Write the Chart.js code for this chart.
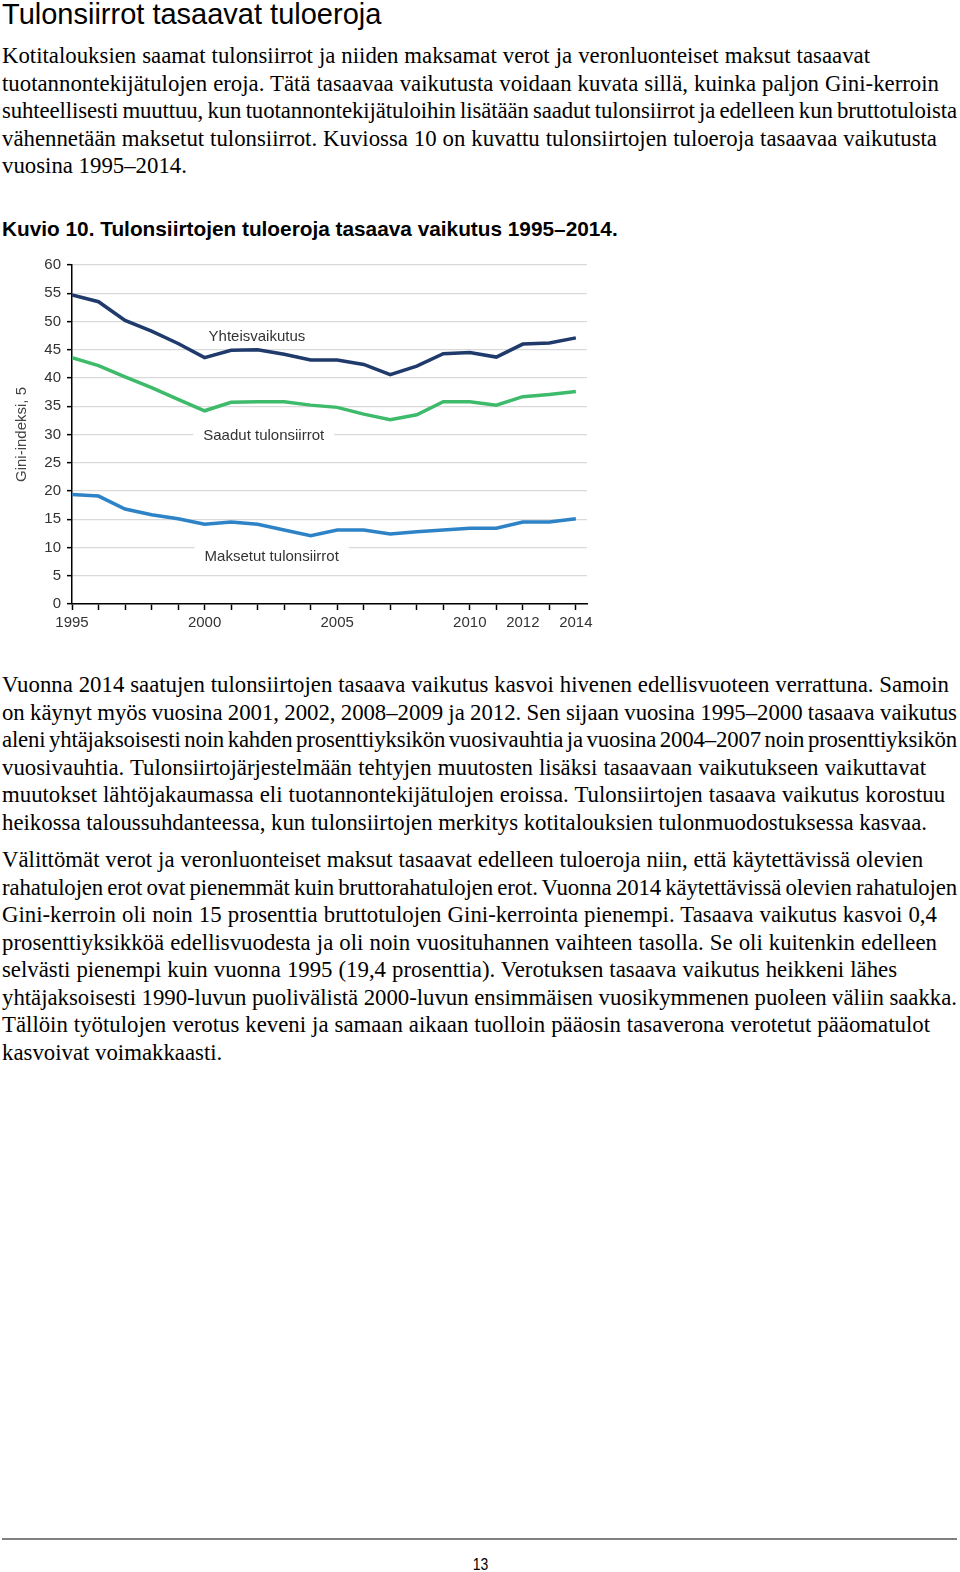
<!DOCTYPE html>
<html lang="fi">
<head>
<meta charset="utf-8">
<title>Tulonsiirrot tasaavat tuloeroja</title>
<script src="https://cdn.jsdelivr.net/npm/chart.js@4.4.1/dist/chart.umd.min.js"></script>
<style>
  html, body { margin: 0; padding: 0; background: #fff; }
  body { width: 960px; height: 1572px; position: relative; overflow: hidden; color: #000; }
  .h1 { position: absolute; left: 2px; top: 0; font: 29px/29px "Liberation Sans", Arial, sans-serif; white-space: nowrap; }
  .para { position: absolute; left: 2px; font: 22.8px/27.5px "Liberation Serif", "Times New Roman", serif; white-space: nowrap; }
  .caption { position: absolute; left: 2px; top: 219px; font: bold 20.8px/20.8px "Liberation Sans", Arial, sans-serif; white-space: nowrap; }
  #chartBox { position: absolute; left: 0; top: 250px; width: 600px; height: 390px; }
  .rule { position: absolute; left: 2px; top: 1538px; width: 955px; height: 2px; background: #808080; }
  .pageno { position: absolute; left: 0; width: 960px; top: 1556px; text-align: center; font: 17px/18px "Liberation Sans", Arial, sans-serif; }
  .pageno span { display: inline-block; transform: scaleX(0.82); }
</style>
</head>
<body>

<div class="h1">Tulonsiirrot tasaavat tuloeroja</div>

<div class="para" style="top:42px">
<span data-r="870">Kotitalouksien saamat tulonsiirrot ja niiden maksamat verot ja veronluonteiset maksut tasaavat</span><br>
<span data-r="939">tuotannontekijätulojen eroja. Tätä tasaavaa vaikutusta voidaan kuvata sillä, kuinka paljon Gini-kerroin</span><br>
<span data-r="957">suhteellisesti muuttuu, kun tuotannontekijätuloihin lisätään saadut tulonsiirrot ja edelleen kun bruttotuloista</span><br>
<span data-r="937">vähennetään maksetut tulonsiirrot. Kuviossa 10 on kuvattu tulonsiirtojen tuloeroja tasaavaa vaikutusta</span><br>
<span>vuosina 1995–2014.</span>
</div>

<div class="caption">Kuvio 10. Tulonsiirtojen tuloeroja tasaava vaikutus 1995–2014.</div>

<div id="chartBox"><canvas id="giniChart"></canvas></div>

<div class="para" style="top:671px">
<span data-r="949">Vuonna 2014 saatujen tulonsiirtojen tasaava vaikutus kasvoi hivenen edellisvuoteen verrattuna. Samoin</span><br>
<span data-r="957">on käynyt myös vuosina 2001, 2002, 2008–2009 ja 2012. Sen sijaan vuosina 1995–2000 tasaava vaikutus</span><br>
<span data-r="957">aleni yhtäjaksoisesti noin kahden prosenttiyksikön vuosivauhtia ja vuosina 2004–2007 noin prosenttiyksikön</span><br>
<span data-r="926">vuosivauhtia. Tulonsiirtojärjestelmään tehtyjen muutosten lisäksi tasaavaan vaikutukseen vaikuttavat</span><br>
<span data-r="945">muutokset lähtöjakaumassa eli tuotannontekijätulojen eroissa. Tulonsiirtojen tasaava vaikutus korostuu</span><br>
<span data-r="927">heikossa taloussuhdanteessa, kun tulonsiirtojen merkitys kotitalouksien tulonmuodostuksessa kasvaa.</span>
</div>

<div class="para" style="top:846px">
<span data-r="923">Välittömät verot ja veronluonteiset maksut tasaavat edelleen tuloeroja niin, että käytettävissä olevien</span><br>
<span data-r="957">rahatulojen erot ovat pienemmät kuin bruttorahatulojen erot. Vuonna 2014 käytettävissä olevien rahatulojen</span><br>
<span data-r="937">Gini-kerroin oli noin 15 prosenttia bruttotulojen Gini-kerrointa pienempi. Tasaava vaikutus kasvoi 0,4</span><br>
<span data-r="937">prosenttiyksikköä edellisvuodesta ja oli noin vuosituhannen vaihteen tasolla. Se oli kuitenkin edelleen</span><br>
<span data-r="897">selvästi pienempi kuin vuonna 1995 (19,4 prosenttia). Verotuksen tasaava vaikutus heikkeni lähes</span><br>
<span data-r="957">yhtäjaksoisesti 1990-luvun puolivälistä 2000-luvun ensimmäisen vuosikymmenen puoleen väliin saakka.</span><br>
<span data-r="930">Tällöin työtulojen verotus keveni ja samaan aikaan tuolloin pääosin tasaverona verotetut pääomatulot</span><br>
<span>kasvoivat voimakkaasti.</span>
</div>

<div class="rule"></div>
<div class="pageno"><span>13</span></div>

<script>
// Kuvio 10 - Gini-indeksi
const years = [1995, 1996, 1997, 1998, 1999, 2000, 2001, 2002, 2003, 2004,
               2005, 2006, 2007, 2008, 2009, 2010, 2011, 2012, 2013, 2014];
const yhteisvaikutus = [54.7, 53.5, 50.2, 48.3, 46.1, 43.6, 44.9, 45.0, 44.2, 43.2,
                        43.2, 42.4, 40.6, 42.1, 44.3, 44.5, 43.7, 46.0, 46.2, 47.1];
const saadutTulonsiirrot = [43.6, 42.2, 40.2, 38.3, 36.2, 34.2, 35.7, 35.8, 35.8, 35.2,
                            34.8, 33.6, 32.6, 33.5, 35.8, 35.8, 35.2, 36.7, 37.1, 37.6];
const maksetutTulonsiirrot = [19.4, 19.1, 16.8, 15.8, 15.1, 14.1, 14.5, 14.1, 13.1, 12.1,
                              13.1, 13.1, 12.4, 12.8, 13.1, 13.4, 13.4, 14.5, 14.5, 15.1];
const seriesNames = ['Yhteisvaikutus', 'Saadut tulonsiirrot', 'Maksetut tulonsiirrot'];
const seriesColors = ['#1f3a6b', '#3dbb6b', '#2e83c6'];
// where each in-chart series label starts (year, value)
const labelAnchors = [[2000.15, 47.3], [1999.95, 29.8], [2000.0, 8.4]];
const xTickLabels = [1995, 2000, 2005, 2010, 2012, 2014];
const yMin = 0, yMax = 60, yStep = 5;

// fit each line to where it ends on the printed page
// (widen: word gaps only; squeeze: half letters, half word gaps)
document.querySelectorAll('.para span[data-r]').forEach(el => {
    const box = el.getBoundingClientRect();
    const text = el.textContent;
    const gaps = (text.match(/ /g) || []).length;
    if (!gaps) return;
    const delta = +el.dataset.r - box.right;
    if (delta < 0) {
        const ls = (delta * 0.5) / text.length;
        el.style.letterSpacing = ls.toFixed(3) + 'px';
        el.style.wordSpacing = ((delta * 0.5) / gaps).toFixed(2) + 'px';
    } else {
        el.style.wordSpacing = (delta / gaps).toFixed(2) + 'px';
    }
});

const axisFont = { family: '"Liberation Sans", Arial, sans-serif', size: 15 };

// series names written inside the plot, on a white box over the gridlines
const seriesLabels = {
    id: 'seriesLabels',
    beforeDatasetsDraw(chart) {
        const { ctx, scales: { x, y } } = chart;
        ctx.save();
        ctx.font = '15px "Liberation Sans", Arial, sans-serif';
        ctx.textBaseline = 'middle';
        chart.data.datasets.forEach((ds, i) => {
            const px = x.getPixelForValue(labelAnchors[i][0]);
            const py = y.getPixelForValue(labelAnchors[i][1]);
            const w = ctx.measureText(ds.label).width;
            ctx.fillStyle = '#fff';
            ctx.fillRect(px - 10, py - 11, w + 20, 22);
            ctx.fillStyle = '#333';
            ctx.fillText(ds.label, px, py);
        });
        ctx.restore();
    }
};

const series = [yhteisvaikutus, saadutTulonsiirrot, maksetutTulonsiirrot];

new Chart(document.getElementById('giniChart'), {
    type: 'line',
    data: {
        datasets: series.map((vals, i) => ({
            label: seriesNames[i],
            data: years.map((yr, j) => ({ x: yr, y: vals[j] })),
            borderColor: seriesColors[i],
            backgroundColor: seriesColors[i],
            borderWidth: 3.5,
            pointRadius: 0,
            tension: 0,
            fill: false
        }))
    },
    options: {
        responsive: true,
        maintainAspectRatio: false,
        animation: false,
        layout: { padding: { top: 13, right: 13, left: 0, bottom: 0 } },
        plugins: {
            legend: { display: false },
            tooltip: { enabled: false }
        },
        scales: {
            x: {
                type: 'linear',
                min: 1995,
                max: 2014.42,
                afterBuildTicks: (scale) => { scale.ticks = years.map(v => ({ value: v })); },
                afterFit: (scale) => { scale.height = 36; },
                grid: { drawOnChartArea: false, tickLength: 6, tickColor: '#000', tickWidth: 1.5 },
                border: { color: '#000', width: 1.5 },
                ticks: {
                    autoSkip: false,
                    maxRotation: 0,
                    padding: 4,
                    color: '#333',
                    font: axisFont,
                    callback: (v) => xTickLabels.includes(v) ? String(v) : ''
                }
            },
            y: {
                min: yMin,
                max: yMax,
                afterFit: (scale) => { scale.width = 72; },
                grid: { color: '#d9d9d9', lineWidth: 1.3, tickColor: '#000', tickLength: 5, tickWidth: 1.5 },
                border: { color: '#000', width: 1.5 },
                ticks: { stepSize: yStep, padding: 6, color: '#333', font: axisFont },
                title: {
                    display: true,
                    text: 'Gini-indeksi, 5',
                    color: '#444',
                    font: axisFont,
                    padding: { top: 13, bottom: 0 }
                }
            }
        }
    },
    plugins: [seriesLabels]
});
</script>
</body>
</html>
